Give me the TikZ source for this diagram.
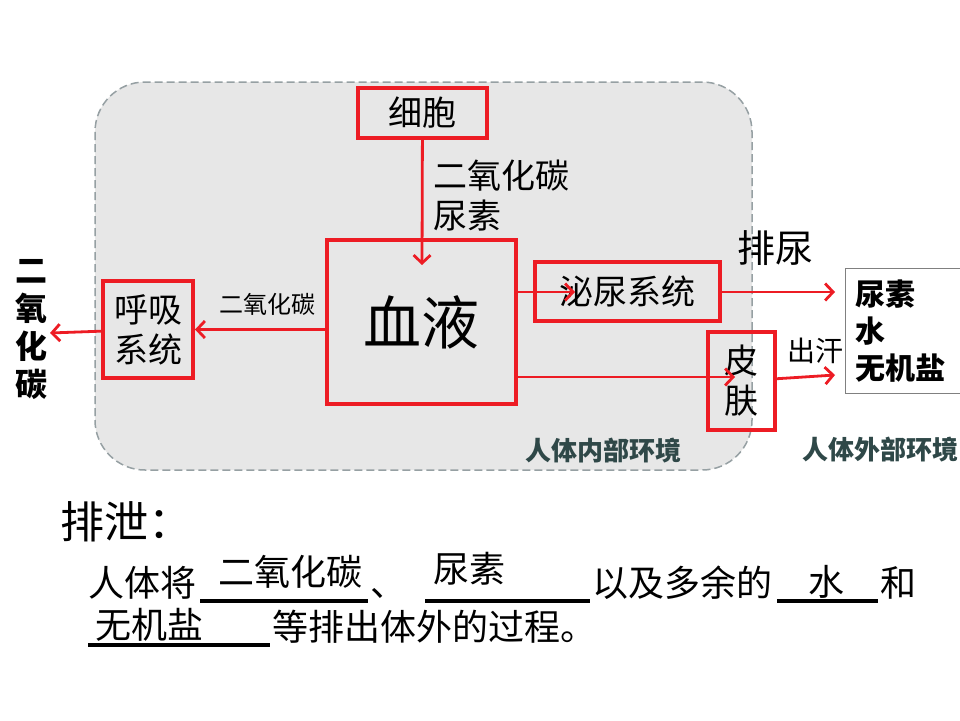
\documentclass[tikz,border=0pt]{standalone}
\usepackage{fontspec}
\setmainfont{Noto Sans CJK SC}
\usetikzlibrary{arrows.meta}
\definecolor{boxred}{RGB}{237,28,36}
\definecolor{envgray}{RGB}{231,231,231}
\definecolor{envline}{RGB}{150,160,163}
\definecolor{envtext}{RGB}{47,72,72}
\newcommand{\fsz}[1]{\fontsize{#1}{#1}\selectfont}
\begin{document}
\begin{tikzpicture}[x=1pt,y=-1pt,
    redbox/.style={draw=boxred,line width=4pt,inner sep=0pt,align=center,font=\fsz{34}},
    flow/.style={draw=boxred,line width=2.8pt,-{Straight Barb[length=8pt,width=17pt,line width=2.8pt]}},
    lbl/.style={inner sep=0pt,font=\fsz{34}},
    envlbl/.style={inner sep=0pt,text=envtext,font=\bfseries\fsz{26}},
    txt/.style={inner sep=0pt,anchor=base west,font=\fsz{36}},
    blank/.style={line width=3.5pt}]
    \useasboundingbox[fill=white] (0,0) rectangle (960,720);

    % inner environment
    \draw[dash pattern=on 8pt off 4pt,fill=envgray,draw=envline,line width=1.5pt,rounded corners=50pt] (95,82) rectangle (752,470);

    \node[redbox,minimum width=129pt,minimum height=50pt] (cell) at (422.5,113) {细胞};
    \node[redbox,minimum width=189pt,minimum height=164pt,font=\fsz{58}] (blood) at (421.5,322) {血液};
    \node[redbox,minimum width=185pt,minimum height=59pt] (urin) at (627.5,291.5) {泌尿系统};
    \node[redbox,minimum width=67pt,minimum height=98pt,font=\fontsize{34}{40}\selectfont] (skin) at (741.5,381) {皮\\肤};
    \node[redbox,minimum width=90pt,minimum height=97pt,font=\fontsize{34}{40}\selectfont] (resp) at (148,329.5) {呼吸\\系统};
    \node[draw=gray,line width=1.2pt,anchor=north west,minimum height=125pt,text width=105pt,
          inner xsep=10pt,inner ysep=0pt,align=left,font=\bfseries\fontsize{30}{37}\selectfont] (out) at (845,268) {尿素\\水\\无机盐};

    \coordinate (cellend) at (422,265);
    \coordinate (urinin) at (575,292);
    \coordinate (urinout) at (835,292);
    \coordinate (skinin) at (735,377);
    \coordinate (skinout) at (835,375);
    \coordinate (co2end) at (50,333);

    \draw[flow] (cell) -- (cellend);
    \draw[flow] (blood.east |- urinin) -- (urinin);
    \draw[flow] (urin.east |- urinout) -- (urinout);
    \draw[flow] (blood.east |- skinin) -- (skinin);
    \draw[flow] (skin) -- (skinout);
    \draw[flow] (blood.west |- resp) -- (resp.east);
    \draw[flow] (resp) -- (co2end);

    % labels
    \node[lbl,anchor=north west,align=left,font=\fontsize{34}{40}\selectfont] (cellout) at (433,160) {二氧化碳\\尿素};
    \node[lbl,font=\fsz{38}] (pee) at (775,248) {排尿};
    \node[lbl,font=\fsz{28}] (sweat) at (815,351) {出汗};
    \node[lbl,font=\fsz{24}] (co2lbl) at (267,304) {二氧化碳};
    \node[inner sep=0pt,align=center,font=\bfseries\fontsize{32}{38}\selectfont] (co2) at (31,330) {二\\氧\\化\\碳};
    \node[envlbl] (inenv) at (603,451) {人体内部环境};
    \node[envlbl] (outenv) at (880,450) {人体外部环境};

    % bottom text
    \node[txt,font=\fsz{44}] (title) at (60,538) {排泄：};
    \node[txt] (l2a) at (88,596) {人体将};
    \draw[blank] (200,601) -- (368,601);
    \node[lbl,font=\fsz{36}] (ans1) at (290,572) {二氧化碳};
    \node[txt] (l2b) at (370,596) {、};
    \draw[blank] (425,601) -- (590,601);
    \node[lbl,font=\fsz{36}] (ans2) at (469,569) {尿素};
    \node[txt] (l2c) at (592,596) {以及多余的};
    \draw[blank] (777,601) -- (878,601);
    \node[lbl,font=\fsz{36}] (ans3) at (826,582) {水};
    \node[txt] (l2d) at (880,596) {和};
    \draw[blank] (88,645) -- (270,645);
    \node[txt] (ans4) at (95,638) {无机盐};
    \node[txt] (l3) at (272,640) {等排出体外的过程。};
\end{tikzpicture}
\end{document}
